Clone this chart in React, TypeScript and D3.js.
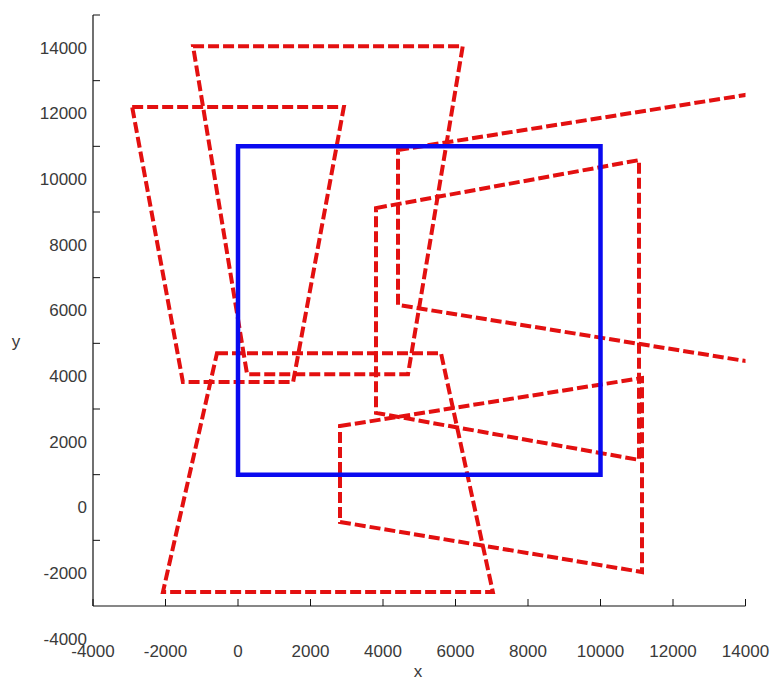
import React from "react";
import * as d3 from "d3";

type Pt = [number, number];

// Reference box (blue)
const blueBox: Pt[] = [
  [0, 1000],
  [10000, 1000],
  [10000, 11000],
  [0, 11000],
];

// Red dashed quadrilaterals (transformed boxes)
const quadA: Pt[] = [[-1240, 14050], [6200, 14050], [4690, 4060], [250, 4060]];
const quadB: Pt[] = [[-2920, 12200], [2920, 12200], [1520, 3820], [-1520, 3820]];
const quadC: Pt[] = [[-580, 4700], [5600, 4700], [7030, -2570], [-2070, -2570]];
const quadD: Pt[] = [[2814, 2480], [11145, 3945], [11145, -1965], [2814, -440]];
const quadE: Pt[] = [[3807, 9120], [11062, 10580], [11062, 1450], [3807, 2880]];
const quadF: Pt[] = [[4414, 10888], [16000, 12914], [16000, 4106], [4414, 6168]];
const redQuads: Pt[][] = [quadA, quadB, quadC, quadD, quadE, quadF];

const xTicks = [-4000, -2000, 0, 2000, 4000, 6000, 8000, 10000, 12000, 14000];
const yLabels = [-4000, -2000, 0, 2000, 4000, 6000, 8000, 10000, 12000, 14000];
const yTickMarks = [-1000, 1000, 3000, 5000, 7000, 9000, 11000, 13000, 15000];

const W = 771;
const H = 680;
const L = 93;
const R = 745.5;
const T = 15;
const B = 606;

export default function App() {
  const x = d3.scaleLinear().domain([-4000, 14000]).range([L, R]);
  const y = d3.scaleLinear().domain([-3000, 15000]).range([B, T]);
  const line = d3
    .line<Pt>()
    .x((d) => x(d[0]))
    .y((d) => y(d[1]))
    .curve(d3.curveLinearClosed);

  const font = "'Liberation Sans', Arial, sans-serif";
  const textColor = "#3a3a3a";

  return (
    <svg
      width={W}
      height={H}
      style={{ position: "absolute", left: 0, top: 0, background: "#fff" }}
    >
      <defs>
        <clipPath id="plotclip">
          <rect x={L} y={0} width={R - L} height={B} />
        </clipPath>
      </defs>
      <rect x={0} y={0} width={W} height={H} fill="#fff" />

      <g clipPath="url(#plotclip)">
        {redQuads.map((q, i) => (
          <path
            key={i}
            d={line(q) || ""}
            fill="none"
            stroke="#e31010"
            strokeWidth={4}
            strokeDasharray="11,4"
            strokeLinejoin="miter"
          />
        ))}
        <path
          d={line(blueBox) || ""}
          fill="none"
          stroke="#0a0af0"
          strokeWidth={4.5}
          strokeLinejoin="miter"
        />
      </g>

      {/* axes */}
      <line x1={L} x2={L} y1={T} y2={B} stroke="#111" strokeWidth={1.2} />
      <line x1={L} x2={R} y1={B} y2={B} stroke="#111" strokeWidth={1.2} />

      {xTicks.map((t) => (
        <g key={"xt" + t}>
          <line x1={x(t)} x2={x(t)} y1={B} y2={B - 7} stroke="#111" strokeWidth={1} />
          <text
            x={x(t)}
            y={651}
            dy="0.35em"
            textAnchor="middle"
            fontFamily={font}
            fontSize={17}
            fill={textColor}
          >
            {t}
          </text>
        </g>
      ))}

      {yTickMarks.map((t) => (
        <line key={"ytm" + t} x1={L} x2={L + 7} y1={y(t)} y2={y(t)} stroke="#111" strokeWidth={1} />
      ))}
      {yLabels.map((t) => (
        <text
          key={"yl" + t}
          x={87}
          y={y(t)}
          dy="0.35em"
          textAnchor="end"
          fontFamily={font}
          fontSize={17}
          fill={textColor}
        >
          {t}
        </text>
      ))}

      <text x={418} y={671} dy="0.35em" textAnchor="middle" fontFamily={font} fontSize={17} fill={textColor}>
        x
      </text>
      <text x={16} y={341} dy="0.35em" textAnchor="middle" fontFamily={font} fontSize={17} fill={textColor}>
        y
      </text>
    </svg>
  );
}
